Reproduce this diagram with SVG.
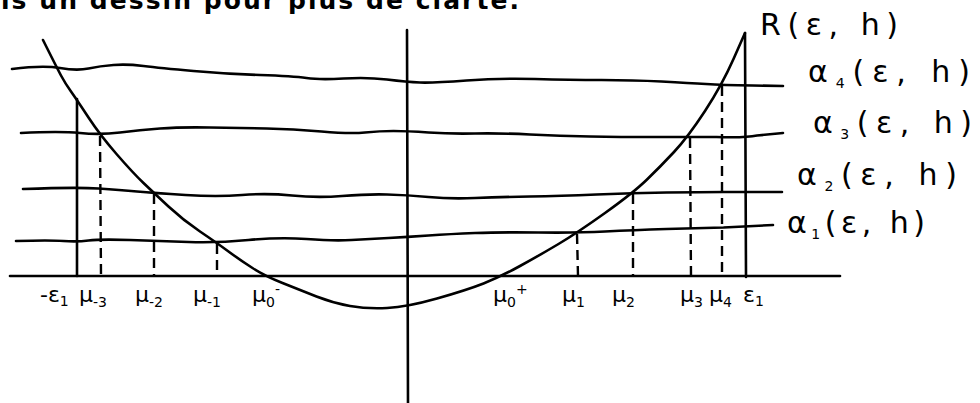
<svg xmlns="http://www.w3.org/2000/svg" width="980" height="403" viewBox="0 0 980 403">
<style>
.ln{fill:none;stroke:#000;stroke-width:2.6;stroke-linecap:round;stroke-linejoin:round}
.ds{fill:none;stroke:#000;stroke-width:2.4;stroke-dasharray:10 6}
.hw{font-family:"DejaVu Sans","Liberation Sans",sans-serif;fill:#000}
.lab{font-size:22px}
.rl{font-size:30px}
.sub{font-size:14px}
</style>
<rect width="980" height="403" fill="#fff"/>
<text class="hw" x="1" y="9" font-size="25" font-weight="bold" textLength="518" lengthAdjust="spacing">is un dessin pour plus de clarté.</text>
<g id="axes">
<path class="ln" d="M10,276 L840,276"/>
<path class="ln" d="M407,30 L408,403"/>
<path class="ln" d="M77,99 L77,276"/>
<path class="ln" d="M745,33 L746,277"/>
</g>
<g id="levels">
<path id="alpha4" class="ln" d="M12,69 Q43,65 60,68 Q77,71 88.5,68.5 Q100,66 113.5,65 Q127,64 143.5,66 Q160,68 193.5,71 Q227,74 260,75 Q293,76 306.5,78 Q320,80 343.5,78.5 Q367,77 387,79.5 Q407,82 420,82.5 Q433,83 466.5,80.5 Q500,78 535,79 Q570,80 601.5,80 Q633,80 661.5,81.5 Q690,83 706,84 Q722,85 752.5,85.5 L783,86"/>
<path id="alpha3" class="ln" d="M21,133 Q60,131 80,133 Q100,135 120,132.5 Q140,130 160,128.5 Q180,127 210,127.5 Q240,128 266.5,128.5 Q293,129 321.5,131.5 Q350,134 365,132.5 Q380,131 393.5,131 Q407,131 428.5,132.5 Q450,134 475,133.5 Q500,133 530,134.5 Q560,136 590,136.5 Q620,137 654,137 Q688,137 716.5,137 Q745,138 757,135.5 L783,133"/>
<path id="alpha2" class="ln" d="M23,189 Q77,187 98.5,188.5 Q120,190 137,191.5 Q154,193 185.5,195 Q217,197 242,195 Q267,193 292,195.5 Q317,198 342,196 Q367,194 387,194.5 Q407,195 428.5,197 Q450,199 475,198 Q500,197 530,196.5 Q560,196 596.5,194.5 Q633,193 666.5,192.5 Q700,192 723.5,192 L782,192"/>
<path id="alpha1" class="ln" d="M16,241 Q50,240 63.5,241 Q77,242 88.5,240.5 Q100,239 130,240 Q160,241 188.5,242 Q217,243 248.5,240 Q280,237 306.5,239 Q333,241 351.5,240 Q370,239 388.5,238 Q407,237 428.5,235.5 Q450,234 475,233 Q500,232 538.5,232.5 Q577,233 605,231.5 Q633,230 666.5,229 Q700,228 723.5,227.5 L773,225"/>
</g>
<g id="curve-R">
<path class="ln" d="M43,40 Q57,68 61,75.5 Q65,83 71,91.5 Q77,100 88.5,117.5 Q100,135 116.5,154 Q133,173 143.5,183 Q154,193 168.5,206.5 Q183,220 200,231.5 Q217,243 228.5,251.5 Q240,260 252.5,268 Q265,276 282.5,283 Q300,290 316.5,296.5 Q333,303 350,306 Q367,309 387,308 Q407,307 437,298.5 Q467,290 483.5,283.5 Q500,277 520,266 Q540,255 558.5,244 Q577,233 605,213 Q633,193 646.5,180 Q660,167 674,152 Q688,137 705,111 Q722,85 733.5,59 L745,33"/>
</g>
<g id="projections">
<path class="ds" d="M100,136 L101,276"/>
<path class="ds" d="M154,194 L154,276"/>
<path class="ds" d="M217,244 L217,276"/>
<path class="ds" d="M577,234 L578,276"/>
<path class="ds" d="M633,194 L633,276"/>
<path class="ds" d="M690,138 L691,276"/>
<path class="ds" d="M722,86 L722,276"/>
</g>
<g id="labels-bottom" class="hw lab">
<text x="40" y="302">-ε<tspan class="sub" dy="4">1</tspan></text>
<text x="79" y="302">μ<tspan class="sub" dy="5">-3</tspan></text>
<text x="135" y="302">μ<tspan class="sub" dy="5">-2</tspan></text>
<text x="193" y="302">μ<tspan class="sub" dy="5">-1</tspan></text>
<text x="252" y="302">μ<tspan class="sub" dy="5">0</tspan><tspan class="sub" dy="-13">-</tspan></text>
<text x="493" y="302">μ<tspan class="sub" dy="5">0</tspan><tspan class="sub" dy="-13">+</tspan></text>
<text x="562" y="302">μ<tspan class="sub" dy="5">1</tspan></text>
<text x="612" y="302">μ<tspan class="sub" dy="5">2</tspan></text>
<text x="680" y="302">μ<tspan class="sub" dy="5">3</tspan></text>
<text x="709" y="302">μ<tspan class="sub" dy="5">4</tspan></text>
<text x="743" y="302">ε<tspan class="sub" dy="4">1</tspan></text>
</g>
<g id="labels-right" class="hw rl">
<text x="760" y="35" textLength="138" lengthAdjust="spacing">R(ε, h)</text>
<text x="808" y="82" textLength="162" lengthAdjust="spacing">α<tspan class="sub" font-size="17" dy="6">4</tspan><tspan dy="-6">(ε, h)</tspan></text>
<text x="813" y="133" textLength="159" lengthAdjust="spacing">α<tspan class="sub" font-size="17" dy="6">3</tspan><tspan dy="-6">(ε, h)</tspan></text>
<text x="797" y="185" textLength="160" lengthAdjust="spacing">α<tspan class="sub" font-size="17" dy="6">2</tspan><tspan dy="-6">(ε, h)</tspan></text>
<text x="787" y="233" textLength="138" lengthAdjust="spacing">α<tspan class="sub" font-size="17" dy="6">1</tspan><tspan dy="-6">(ε, h)</tspan></text>
</g>
</svg>
